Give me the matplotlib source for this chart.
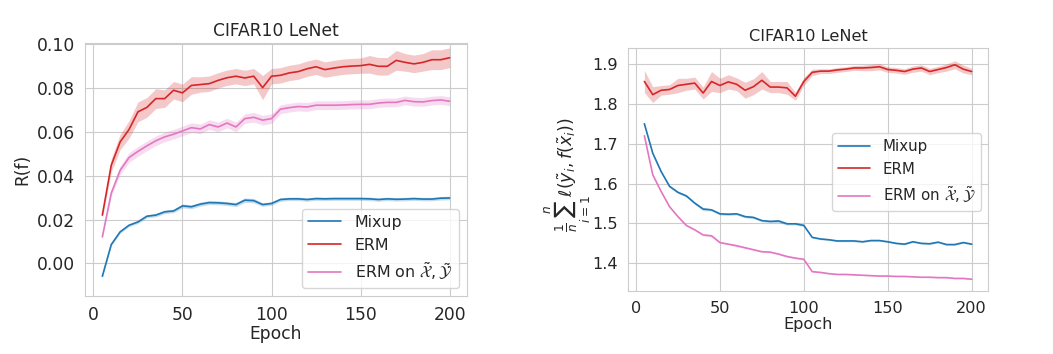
import numpy as np
import matplotlib.pyplot as plt
import seaborn as sns

sns.set_style("whitegrid")

epochs = list(range(5, 201, 5))

# left panel: R(f)
risk_mixup = [-0.0058, 0.0086, 0.0144, 0.0174, 0.0189, 0.0215, 0.0220, 0.0235, 0.0239, 0.0262,
              0.0258, 0.0270, 0.0277, 0.0276, 0.0273, 0.0268, 0.0288, 0.0286, 0.0268, 0.0273,
              0.0291, 0.0294, 0.0294, 0.0291, 0.0295, 0.0294, 0.0295, 0.0295, 0.0295, 0.0295,
              0.0294, 0.0291, 0.0294, 0.0292, 0.0293, 0.0295, 0.0293, 0.0293, 0.0297, 0.0298]
risk_mixup_sd = [0.0006, 0.0006, 0.0006, 0.0006, 0.0007, 0.0007, 0.0008, 0.0008, 0.0008, 0.0009,
                 0.0009, 0.0009, 0.0009, 0.0009, 0.0009, 0.0009, 0.0010, 0.0010, 0.0008, 0.0008,
                 0.0008, 0.0008, 0.0008, 0.0008, 0.0008, 0.0008, 0.0008, 0.0008, 0.0008, 0.0008,
                 0.0008, 0.0008, 0.0008, 0.0008, 0.0008, 0.0008, 0.0008, 0.0008, 0.0008, 0.0008]
risk_erm = [0.0220, 0.0447, 0.0553, 0.0610, 0.0690, 0.0710, 0.0750, 0.0750, 0.0788, 0.0776,
            0.0810, 0.0814, 0.0818, 0.0833, 0.0845, 0.0852, 0.0844, 0.0852, 0.0800, 0.0852,
            0.0856, 0.0867, 0.0873, 0.0886, 0.0895, 0.0882, 0.0889, 0.0895, 0.0898, 0.0900,
            0.0906, 0.0897, 0.0897, 0.0924, 0.0915, 0.0908, 0.0915, 0.0927, 0.0927, 0.0936]
risk_erm_sd = [0.0010, 0.0030, 0.0035, 0.0040, 0.0045, 0.0045, 0.0045, 0.0040, 0.0040, 0.0040,
               0.0040, 0.0035, 0.0035, 0.0035, 0.0035, 0.0035, 0.0035, 0.0035, 0.0055, 0.0035,
               0.0035, 0.0035, 0.0035, 0.0035, 0.0035, 0.0035, 0.0035, 0.0035, 0.0035, 0.0035,
               0.0040, 0.0040, 0.0040, 0.0045, 0.0040, 0.0040, 0.0040, 0.0045, 0.0045, 0.0045]
risk_tilde = [0.0121, 0.0320, 0.0424, 0.0482, 0.0510, 0.0535, 0.0558, 0.0576, 0.0588, 0.0603,
              0.0618, 0.0612, 0.0632, 0.0621, 0.0639, 0.0621, 0.0659, 0.0665, 0.0652, 0.0659,
              0.0702, 0.0709, 0.0714, 0.0712, 0.0720, 0.0720, 0.0720, 0.0721, 0.0723, 0.0724,
              0.0724, 0.0730, 0.0733, 0.0733, 0.0742, 0.0736, 0.0735, 0.0741, 0.0744, 0.0738]
risk_tilde_sd = [0.0005, 0.0015, 0.0020, 0.0022, 0.0022, 0.0022, 0.0022, 0.0022, 0.0022, 0.0022,
                 0.0022, 0.0022, 0.0022, 0.0022, 0.0022, 0.0022, 0.0022, 0.0022, 0.0022, 0.0022,
                 0.0020, 0.0020, 0.0020, 0.0020, 0.0020, 0.0020, 0.0020, 0.0020, 0.0020, 0.0020,
                 0.0020, 0.0020, 0.0020, 0.0020, 0.0020, 0.0020, 0.0020, 0.0020, 0.0020, 0.0020]

# right panel: empirical loss on mixed samples
loss_mixup = [1.750, 1.676, 1.630, 1.593, 1.578, 1.569, 1.551, 1.536, 1.534, 1.524,
              1.523, 1.524, 1.517, 1.515, 1.507, 1.505, 1.506, 1.499, 1.499, 1.495,
              1.465, 1.461, 1.459, 1.456, 1.456, 1.456, 1.454, 1.457, 1.457, 1.454,
              1.450, 1.448, 1.454, 1.450, 1.449, 1.453, 1.447, 1.447, 1.452, 1.448]
loss_mixup_sd = [0.001, 0.002, 0.002, 0.003, 0.003, 0.003, 0.003, 0.004, 0.003, 0.003,
                 0.003, 0.003, 0.003, 0.003, 0.003, 0.003, 0.004, 0.003, 0.003, 0.003,
                 0.002, 0.002, 0.002, 0.002, 0.002, 0.002, 0.002, 0.002, 0.002, 0.002,
                 0.002, 0.002, 0.002, 0.002, 0.002, 0.002, 0.002, 0.002, 0.002, 0.002]
loss_erm = [1.856, 1.823, 1.834, 1.836, 1.846, 1.849, 1.852, 1.827, 1.856, 1.846,
            1.855, 1.849, 1.834, 1.843, 1.859, 1.842, 1.842, 1.840, 1.819, 1.856,
            1.879, 1.882, 1.882, 1.885, 1.887, 1.890, 1.890, 1.891, 1.893, 1.886,
            1.884, 1.881, 1.887, 1.890, 1.881, 1.886, 1.891, 1.898, 1.887, 1.881]
loss_erm_sd = [0.028, 0.020, 0.012, 0.012, 0.018, 0.015, 0.015, 0.015, 0.025, 0.018,
               0.018, 0.016, 0.020, 0.020, 0.022, 0.014, 0.014, 0.016, 0.010, 0.010,
               0.008, 0.006, 0.006, 0.006, 0.006, 0.006, 0.007, 0.008, 0.008, 0.007,
               0.007, 0.007, 0.008, 0.008, 0.008, 0.008, 0.009, 0.010, 0.010, 0.008]
loss_tilde = [1.720, 1.622, 1.580, 1.542, 1.517, 1.495, 1.484, 1.471, 1.469, 1.452,
              1.448, 1.444, 1.439, 1.434, 1.429, 1.428, 1.423, 1.417, 1.413, 1.410,
              1.379, 1.377, 1.374, 1.372, 1.372, 1.371, 1.370, 1.369, 1.368, 1.368,
              1.367, 1.367, 1.366, 1.365, 1.365, 1.364, 1.364, 1.362, 1.362, 1.360]
loss_tilde_sd = [0.001, 0.002, 0.002, 0.002, 0.002, 0.002, 0.002, 0.002, 0.003, 0.002,
                 0.002, 0.003, 0.002, 0.002, 0.002, 0.002, 0.002, 0.002, 0.002, 0.002,
                 0.001, 0.001, 0.001, 0.001, 0.001, 0.001, 0.001, 0.001, 0.001, 0.001,
                 0.001, 0.001, 0.001, 0.001, 0.001, 0.001, 0.001, 0.001, 0.001, 0.001]

labels = ["Mixup", "ERM", r"ERM on $\tilde{\mathcal{X}}, \tilde{\mathcal{Y}}$"]
colors = ["#1f77b4", "#d62728", "#e377c2"]

fig = plt.figure(figsize=(10.53, 3.54), dpi=100)
ax1 = fig.add_axes([0.0807, 0.1638, 0.3628, 0.7147])
ax2 = fig.add_axes([0.5964, 0.178, 0.3419, 0.6864])

x = np.array(epochs)


def draw(ax, series, fs):
    for (mean, sd), lab, c in zip(series, labels, colors):
        mean = np.array(mean); sd = np.array(sd)
        ax.plot(x, mean, color=c, lw=1.2, label=lab)
        ax.fill_between(x, mean - sd, mean + sd, color=c, alpha=0.25, lw=0)
    ax.set_xlim(-4.75, 209.75)
    ax.set_xticks([0, 50, 100, 150, 200])
    ax.tick_params(labelsize=fs)
    ax.set_xlabel("Epoch", labelpad=1, fontsize=fs)
    ax.set_title("CIFAR10 LeNet", pad=5, fontsize=fs)


draw(ax1, [(risk_mixup, risk_mixup_sd), (risk_erm, risk_erm_sd), (risk_tilde, risk_tilde_sd)], 12.3)
ax1.set_ylim(-0.0148, 0.1003)
ax1.set_yticks([0.0, 0.02, 0.04, 0.06, 0.08, 0.10])
ax1.set_yticklabels(["0.00", "0.02", "0.04", "0.06", "0.08", "0.10"])
ax1.set_ylabel("R(f)", fontsize=12.3)
ax1.legend(loc="lower right", fontsize=11.4, handletextpad=0.85, borderpad=0.4,
           labelspacing=0.5, handlelength=2.1)

draw(ax2, [(loss_mixup, loss_mixup_sd), (loss_erm, loss_erm_sd), (loss_tilde, loss_tilde_sd)], 11.6)
ax2.set_ylim(1.3305, 1.940)
ax2.set_yticks([1.4, 1.5, 1.6, 1.7, 1.8, 1.9])
ax2.set_ylabel(r"$\frac{1}{n}\sum_{i=1}^{n}\ell(\tilde{y}_i, f(\tilde{x}_i))$", fontsize=12.5)
ax2.yaxis.set_label_coords(-0.098, 0.48)
ax2.legend(loc="upper right", bbox_to_anchor=(0.981, 0.65), borderaxespad=0,
           fontsize=10.8, handletextpad=0.85, borderpad=0.4, labelspacing=0.5,
           handlelength=2.1)

fig.savefig("out.png", dpi=100)
